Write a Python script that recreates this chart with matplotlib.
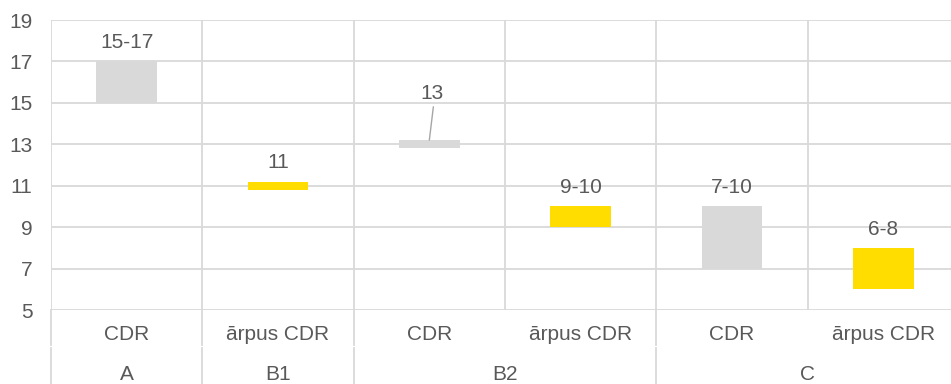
import numpy as np
import matplotlib.pyplot as plt
from matplotlib.transforms import blended_transform_factory

plt.rcParams['font.family'] = ['Liberation Sans', 'DejaVu Sans']

# Category rows and their ranges
categories = ['CDR', 'ārpus CDR', 'CDR', 'ārpus CDR', 'CDR', 'ārpus CDR']
group_names = ['A', 'B1', 'B2', 'C']
group_sizes = [1, 1, 2, 2]
low_values = [15, 11, 13, 9, 7, 6]
high_values = [17, 11, 13, 10, 10, 8]
value_labels = ['15-17', '11', '13', '9-10', '7-10', '6-8']
y_ticks = [5, 7, 9, 11, 13, 15, 17, 19]

GRAY = '#D9D9D9'
YELLOW = '#FFDD00'
TEXT = '#595959'
GRID = '#D9D9D9'
FS = 15

W, H = 951, 384
fig = plt.figure(figsize=(W / 100, H / 100), dpi=100)
ax = fig.add_axes([51 / W, 74 / H, 908 / W, 290 / H])

n = len(categories)
x = np.arange(n) + 0.5
lows = np.array(low_values, dtype=float)
highs = np.array(high_values, dtype=float)
# single values get a thin marker bar
min_h = 0.4
bottoms = np.where(highs - lows < min_h, (lows + highs) / 2 - min_h / 2, lows)
heights = np.maximum(highs - lows, min_h)
colors = [GRAY if c == 'CDR' else YELLOW for c in categories]

ax.bar(x, heights, bottom=bottoms, width=0.4, color=colors, zorder=3)

ax.set_xlim(0, n)
ax.set_ylim(y_ticks[0], y_ticks[-1])
ax.set_yticks(y_ticks)
ax.tick_params(axis='y', length=0, pad=13.3, labelsize=FS, labelcolor=TEXT)
ax.set_xticks([])
for s in ax.spines.values():
    s.set_visible(False)
ax.grid(axis='y', color=GRID, linewidth=1.3, zorder=0)
for i in range(n + 1):
    ax.axvline(i, color=GRID, linewidth=1.3, zorder=0)

# value labels above bars
for i in range(n):
    top = bottoms[i] + heights[i]
    if value_labels[i] == '13':
        ax.annotate('', xy=(x[i], top), xytext=(2.9, 24), textcoords='offset points',
                    arrowprops=dict(arrowstyle='-', color='#A6A6A6', lw=1.0,
                                    shrinkA=0, shrinkB=0), zorder=4)
        ax.annotate(value_labels[i], xy=(x[i], top), xytext=(2.2, 29.5),
                    textcoords='offset points', ha='center', va='baseline',
                    fontsize=FS, color=TEXT)
    else:
        ax.annotate(value_labels[i], xy=(x[i], top), xytext=(0, 9.5),
                    textcoords='offset points', ha='center', va='baseline',
                    fontsize=FS, color=TEXT)

# two-row category axis below the plot
trans = blended_transform_factory(ax.transData, ax.transAxes)
row1 = -25 / 290
row2 = -64 / 290
bottom = -75 / 290
for i, c in enumerate(categories):
    ax.text(x[i], row1, c, transform=trans, ha='center', va='center',
            fontsize=FS, color=TEXT)

start = 0
edges = [0]
for name, size in zip(group_names, group_sizes):
    ax.text(start + size / 2, row2, name, transform=trans, ha='center',
            va='center', fontsize=FS, color=TEXT)
    start += size
    edges.append(start)

for e in edges:
    ax.plot([e, e], [0, -35 / 290], transform=trans, color=GRID, lw=1.3,
            clip_on=False)
    ax.plot([e, e], [-38 / 290, bottom], transform=trans, color=GRID, lw=1.3,
            clip_on=False)

fig.savefig('out.png', dpi=100)
